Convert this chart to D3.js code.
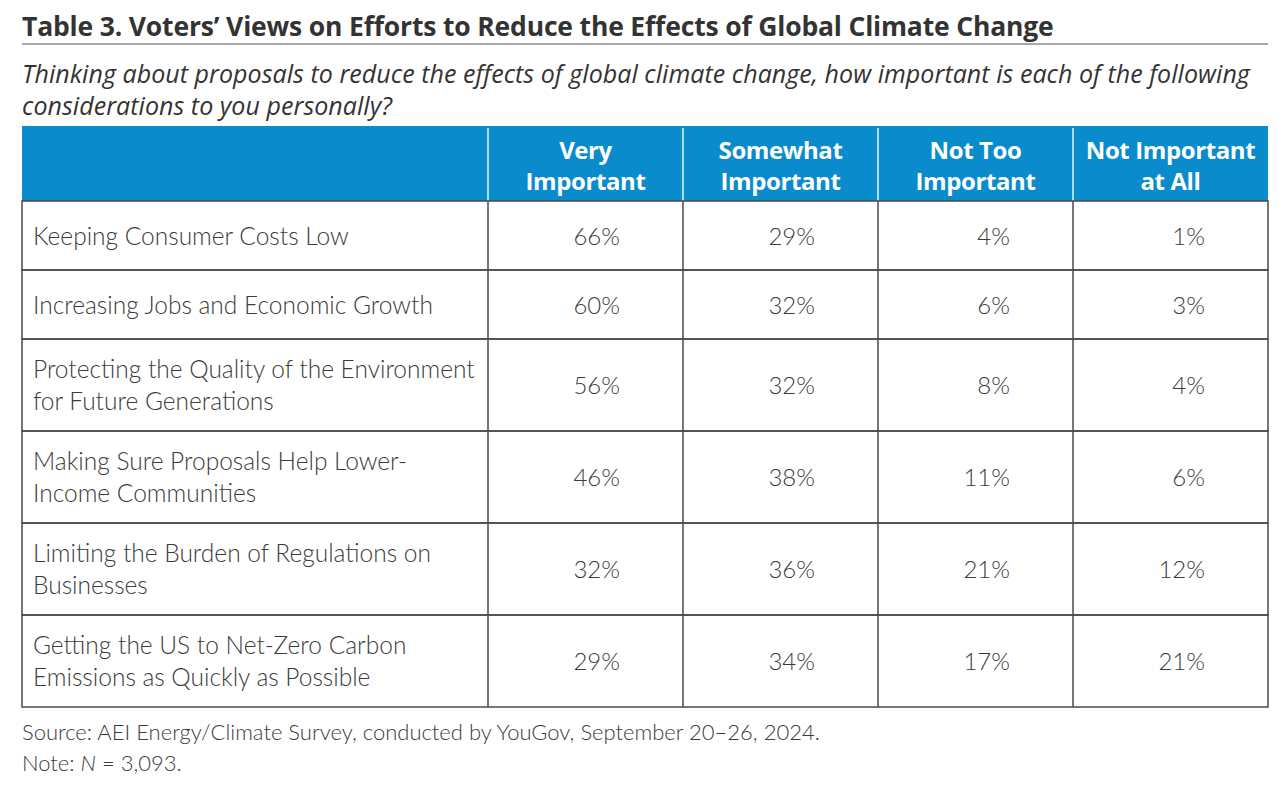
<!DOCTYPE html>
<html>
<head>
<meta charset="utf-8">
<script src="https://cdn.jsdelivr.net/npm/d3@7"></script>
<style>
  body { margin: 0; background: #fff; }
  svg { display: block; }
</style>
</head>
<body>
<svg id="chart" width="1288" height="786"></svg>
<script>
// table content
var title = "Table 3. Voters\u2019 Views on Efforts to Reduce the Effects of Global Climate Change";
var question = [
  "Thinking about proposals to reduce the effects of global climate change, how important is each of the following",
  "considerations to you personally?"
];
var columns = [
  ["Very", "Important"],
  ["Somewhat", "Important"],
  ["Not Too", "Important"],
  ["Not Important", "at All"]
];
var rowLabels = [
  ["Keeping Consumer Costs Low"],
  ["Increasing Jobs and Economic Growth"],
  ["Protecting the Quality of the Environment", "for Future Generations"],
  ["Making Sure Proposals Help Lower-", "Income Communities"],
  ["Limiting the Burden of Regulations on", "Businesses"],
  ["Getting the US to Net-Zero Carbon", "Emissions as Quickly as Possible"]
];
var veryImportant     = [66, 60, 56, 46, 32, 29];
var somewhatImportant = [29, 32, 32, 38, 36, 34];
var notTooImportant   = [4, 6, 8, 11, 21, 17];
var notAtAll          = [1, 3, 4, 6, 12, 21];
var source = "Source: AEI Energy/Climate Survey, conducted by YouGov, September 20\u201326, 2024.";

var series = [veryImportant, somewhatImportant, notTooImportant, notAtAll];

var svg = d3.select("#chart");
var left = 22, right = 1268, labelColEnd = 488;
var headTop = 126, headBottom = 201;
var textColor = "#3b3b3b", lineColor = "#4a4a4a", blue = "#0a8bcc";
var bodyFont = "Lato, 'Open Sans', sans-serif";
var headFont = "'Open Sans', Lato, sans-serif";

// title + rule
svg.append("text")
  .attr("x", left).attr("y", 36)
  .style("font-family", headFont).style("font-weight", 700)
  .style("font-size", "26.5px").style("fill", "#333")
  .style("letter-spacing", "-0.17px")
  .text(title);
svg.append("line")
  .attr("x1", left).attr("x2", right).attr("y1", 44).attr("y2", 44)
  .style("stroke", "#555").style("stroke-width", 1.2);

// question, italic
svg.selectAll("text.q").data(question).enter().append("text")
  .attr("class", "q")
  .attr("x", left).attr("y", function(d, i) { return 83 + i * 32; })
  .style("font-family", headFont).style("font-style", "italic")
  .style("font-size", "25px").style("fill", "#333")
  .style("letter-spacing", "0.05px")
  .text(function(d) { return d; });

// column scale
var x = d3.scaleBand()
  .domain(d3.range(columns.length))
  .range([labelColEnd, right]);

// row positions from line counts
var rowH = rowLabels.map(function(r) { return r.length > 1 ? 92 : 69; });
var rowTop = [];
rowH.reduce(function(acc, h, i) { rowTop[i] = acc; return acc + h; }, headBottom);
var tableBottom = rowTop[rowTop.length - 1] + rowH[rowH.length - 1];

// header band
svg.append("rect")
  .attr("x", left).attr("y", headTop)
  .attr("width", right - left).attr("height", headBottom - headTop)
  .style("fill", blue);
svg.selectAll("line.hsep").data(d3.range(columns.length)).enter().append("line")
  .attr("class", "hsep")
  .attr("x1", function(d) { return x(d); }).attr("x2", function(d) { return x(d); })
  .attr("y1", headTop + 2).attr("y2", headBottom)
  .style("stroke", "#e8f4fb").style("stroke-width", 1.5);

var head = svg.selectAll("g.head").data(columns).enter().append("g")
  .attr("class", "head");
head.selectAll("text").data(function(d, i) {
    return d.map(function(t) { return { t: t, c: i }; });
  }).enter().append("text")
  .attr("x", function(d) { return x(d.c) + x.bandwidth() / 2; })
  .attr("y", function(d, j) { return 159 + j * 31; })
  .attr("text-anchor", "middle")
  .style("font-family", headFont).style("font-weight", 700)
  .style("font-size", "24px").style("fill", "#fff")
  .style("letter-spacing", "-0.4px")
  .text(function(d) { return d.t; });

// body rows
var rows = svg.selectAll("g.row").data(rowLabels).enter().append("g")
  .attr("class", "row")
  .attr("transform", function(d, i) { return "translate(0," + rowTop[i] + ")"; });

rows.append("rect")
  .attr("x", left).attr("y", 0)
  .attr("width", right - left)
  .attr("height", function(d, i) { return rowH[i]; })
  .style("fill", "none").style("stroke", lineColor).style("stroke-width", 1.5);

rows.selectAll("text.lab").data(function(d, i) {
    return d.map(function(t, j) { return { t: t, j: j, n: d.length, h: rowH[i] }; });
  }).enter().append("text")
  .attr("class", "lab")
  .attr("x", left + 11)
  .attr("y", function(d) { return d.h / 2 + 9 + (d.j - (d.n - 1) / 2) * 32; })
  .style("font-family", bodyFont).style("font-weight", 300)
  .style("font-size", "24.5px").style("fill", textColor)
  .text(function(d) { return d.t; });

rows.selectAll("text.val").data(function(d, i) {
    return series.map(function(s, c) { return { v: s[i], c: c, h: rowH[i] }; });
  }).enter().append("text")
  .attr("class", "val")
  .attr("x", function(d) { return x(d.c) + x.bandwidth() - 63; })
  .attr("y", function(d) { return d.h / 2 + 9; })
  .attr("text-anchor", "end")
  .style("font-family", bodyFont).style("font-weight", 300)
  .style("font-size", "24px").style("fill", textColor)
  .text(function(d) { return d.v + "%"; });

// vertical lines in body
svg.selectAll("line.vsep").data(d3.range(columns.length)).enter().append("line")
  .attr("class", "vsep")
  .attr("x1", function(d) { return x(d); }).attr("x2", function(d) { return x(d); })
  .attr("y1", headBottom).attr("y2", tableBottom)
  .style("stroke", lineColor).style("stroke-width", 1.5);

// footnotes
svg.append("text")
  .attr("x", left).attr("y", 740)
  .style("font-family", bodyFont).style("font-weight", 300)
  .style("font-size", "22px").style("fill", textColor)
  .text(source);
var note = svg.append("text")
  .attr("x", left).attr("y", 771)
  .style("font-family", bodyFont).style("font-weight", 300)
  .style("font-size", "22px").style("fill", textColor);
note.append("tspan").text("Note: ");
note.append("tspan").style("font-style", "italic").text("N");
note.append("tspan").text(" = 3,093.");
</script>
</body>
</html>
